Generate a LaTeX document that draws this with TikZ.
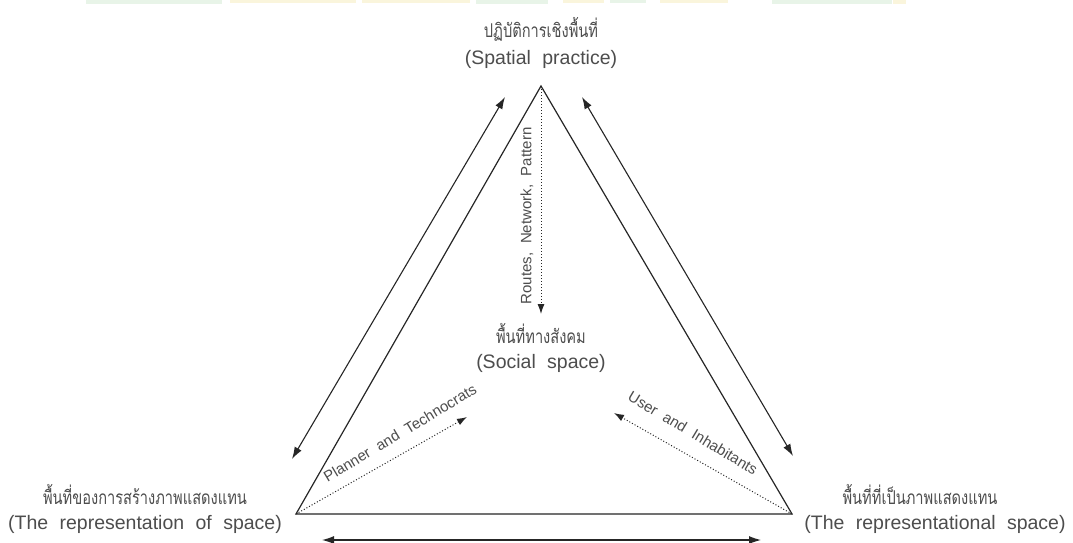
\documentclass[tikz,border=0pt]{standalone}
\usepackage{fontspec}
\setmainfont{Liberation Sans}[WordSpace=2.1]
\newfontfamily\thaifont[Script=Thai,FakeStretch=0.77]{Loma}
\usetikzlibrary{arrows.meta}
\definecolor{txt}{HTML}{4d4d4d}
\definecolor{ln}{HTML}{262626}
\definecolor{wmgreen}{HTML}{e8f4e8}
\definecolor{wmyellow}{HTML}{faf5dc}
\begin{document}
\begin{tikzpicture}[x=1pt,y=-1pt,
  lbl/.style={text=txt,font=\fontsize{19.5}{22}\selectfont,inner sep=0pt,anchor=center},
  th/.style={text=txt,font=\thaifont\fontsize{19}{22}\selectfont,inner sep=0pt,anchor=center},
  small/.style={text=txt,font=\fontsize{15}{17}\selectfont,inner sep=0pt,anchor=center},
  edge/.style={draw=ln,line width=1.2pt,line join=miter},
  dbl/.style={draw=ln,line width=1.1pt,{Latex[length=12pt,width=8pt]}-{Latex[length=12pt,width=8pt]}},
  dotarrow/.style={draw=ln,dotted,line width=1pt,-{Latex[length=10pt,width=7pt]}}]
\useasboundingbox (0,0) rectangle (1073,543);
\fill[white] (0,0) rectangle (1073,543);
% faint header fragments
\fill[wmgreen] (86,0) rectangle (222,4);
\fill[wmyellow] (230,0) rectangle (356,3);
\fill[wmyellow] (362,0) rectangle (470,3);
\fill[wmgreen] (476,0) rectangle (548,4);
\fill[wmyellow] (563,0) rectangle (604,3);
\fill[wmgreen] (610,0) rectangle (646,3);
\fill[wmyellow] (660,0) rectangle (728,3);
\fill[wmgreen] (772,0) rectangle (892,4);
\fill[wmyellow] (893,0) rectangle (906,4);
% vertices
\coordinate (A) at (541,86);
\coordinate (L) at (296,514);
\coordinate (R) at (792,514);
\coordinate (S) at (541,314);
\coordinate (la1) at (292,459);
\coordinate (la2) at (505,97);
\coordinate (ra1) at (582,97);
\coordinate (ra2) at (793,456);
\coordinate (ba1) at (322,540);
\coordinate (ba2) at (761,540);
\coordinate (pt) at (467,417);
\coordinate (ut) at (614,413);
% triangle
\draw[edge] (L) -- (A) -- (R) -- cycle;
% double arrows
\draw[dbl] (la1) -- (la2);
\draw[dbl] (ra1) -- (ra2);
\draw[dbl] (ba1) -- (ba2);
% dotted arrows
\draw[dotarrow] (A) -- (S);
\draw[dotarrow] (L) -- (pt);
\draw[dotarrow] (R) -- (ut);
% labels
\node[th] (topth) at (541,29) {ปฏิบัติการเชิงพื้นที่};
\node[lbl] (topen) at (541,59) {(Spatial practice)};
\node[th] (socth) at (541,333) {พื้นที่ทางสังคม};
\node[lbl] (socen) at (541,363) {(Social space)};
\node[th] (leftth) at (145,494) {พื้นที่ของการสร้างภาพแสดงแทน};
\node[lbl] (leften) at (145,524) {(The representation of space)};
\node[th] (rightth) at (920,494) {พื้นที่ที่เป็นภาพแสดงแทน};
\node[lbl] (righten) at (935,524) {(The representational space)};
\node[small,rotate=90] (routes) at (527,216) {Routes, Network, Pattern};
\node[small,rotate=31] (planner) at (400,433) {Planner and Technocrats};
\node[small,rotate=-31] (user) at (693,433) {User and Inhabitants};
\end{tikzpicture}
\end{document}
